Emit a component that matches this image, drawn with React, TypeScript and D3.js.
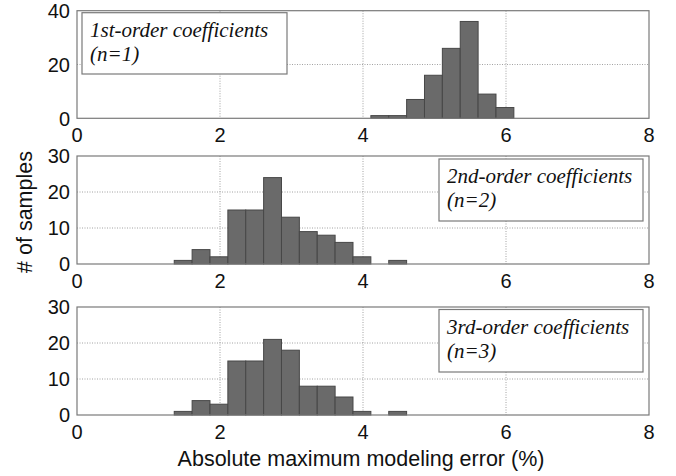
import React from "react";
import * as d3 from "d3";

// Histogram bins (left edge of each bin, in %) and sample counts per panel
const binWidth = 0.25;
const bins1 = [4.11, 4.36, 4.61, 4.86, 5.11, 5.36, 5.61, 5.86];
const counts1 = [1, 1, 7, 16, 26, 36, 9, 4];
const bins23 = [1.36, 1.61, 1.86, 2.11, 2.36, 2.61, 2.86, 3.11, 3.36, 3.61, 3.86, 4.11, 4.36];
const counts2 = [1, 4, 2, 15, 15, 24, 13, 9, 8, 6, 2, 0, 1];
const counts3 = [1, 4, 3, 15, 15, 21, 18, 8, 8, 5, 1, 0, 1];

const xTicks = [0, 2, 4, 6, 8];
const yTicks1 = [0, 20, 40];
const yTicks23 = [0, 10, 20, 30];

const titles1 = ["1st-order coefficients", "(n=1)"];
const titles2 = ["2nd-order coefficients", "(n=2)"];
const titles3 = ["3rd-order coefficients", "(n=3)"];

const xTitle = "Absolute maximum modeling error (%)";
const yTitle = "# of samples";

const W = 676;
const H = 476;
const left = 77;
const right = 649;

const x = d3.scaleLinear().domain([0, 8]).range([left, right]);

type PanelProps = {
  top: number;
  bottom: number;
  yMax: number;
  yTicks: number[];
  bins: number[];
  counts: number[];
  titles: string[];
  box: { x0: number; x1: number; y0: number; y1: number };
};

const axisColor = "#7a7a7a";
const gridColor = "#8a8a8a";
const font = "'Liberation Sans', Arial, sans-serif";

function Panel({ top, bottom, yMax, yTicks, bins, counts, titles, box }: PanelProps) {
  const y = d3.scaleLinear().domain([0, yMax]).range([bottom, top]);
  return (
    <g>
      {/* dotted grid */}
      {xTicks.slice(1, -1).map((t) => (
        <line key={"gx" + t} x1={x(t)} x2={x(t)} y1={top} y2={bottom}
          stroke={gridColor} strokeWidth={0.8} strokeDasharray="1,1.5" />
      ))}
      {yTicks.slice(1, -1).map((t) => (
        <line key={"gy" + t} x1={left} x2={right} y1={y(t)} y2={y(t)}
          stroke={gridColor} strokeWidth={0.8} strokeDasharray="1,1.5" />
      ))}
      {/* bars */}
      {bins.map((b, i) =>
        counts[i] > 0 ? (
          <rect key={"b" + i} x={x(b)} y={y(counts[i])}
            width={x(b + binWidth) - x(b)} height={y(0) - y(counts[i])}
            fill="#6a6a6a" stroke="#474747" strokeWidth={1} />
        ) : null
      )}
      {/* axes box */}
      <rect x={left} y={top} width={right - left} height={bottom - top}
        fill="none" stroke={axisColor} strokeWidth={1.2} />
      {/* y tick labels */}
      {yTicks.map((t) => (
        <text key={"yl" + t} x={left - 7} y={y(t)} dy="0.36em" textAnchor="end"
          fontFamily={font} fontSize={20} fill="#111">{t}</text>
      ))}
      {/* x tick labels */}
      {xTicks.map((t) => (
        <text key={"xl" + t} x={x(t)} y={bottom + 23.5} textAnchor="middle"
          fontFamily={font} fontSize={20} fill="#111">{t}</text>
      ))}
      {/* annotation box */}
      <rect x={box.x0} y={box.y0} width={box.x1 - box.x0} height={box.y1 - box.y0}
        fill="#fff" stroke={axisColor} strokeWidth={1.2} />
      {titles.map((s, i) => (
        <text key={"t" + i} x={box.x0 + 8} y={box.y0 + 24 + i * 24}
          fontFamily="'Liberation Serif', 'Times New Roman', serif" fontStyle="italic"
          fontSize={21} fill="#111">{s}</text>
      ))}
    </g>
  );
}

export default function App() {
  return (
    <svg width={W} height={H} style={{ position: "absolute", left: 0, top: 0, background: "#fff" }}>
      <rect width={W} height={H} fill="#fff" />
      <Panel top={10.7} bottom={118.3} yMax={40} yTicks={yTicks1} bins={bins1} counts={counts1}
        titles={titles1} box={{ x0: 82, x1: 287, y0: 12.7, y1: 74 }} />
      <Panel top={156} bottom={264} yMax={30} yTicks={yTicks23} bins={bins23} counts={counts2}
        titles={titles2} box={{ x0: 439, x1: 643, y0: 159, y1: 221 }} />
      <Panel top={307} bottom={415} yMax={30} yTicks={yTicks23} bins={bins23} counts={counts3}
        titles={titles3} box={{ x0: 439, x1: 643, y0: 309.5, y1: 372 }} />
      <text x={361} y={466} textAnchor="middle" fontFamily={font} fontSize={21.5} fill="#111">{xTitle}</text>
      <text transform="translate(32,212) rotate(-90)" textAnchor="middle" fontFamily={font}
        fontSize={21.5} fill="#111">{yTitle}</text>
    </svg>
  );
}
